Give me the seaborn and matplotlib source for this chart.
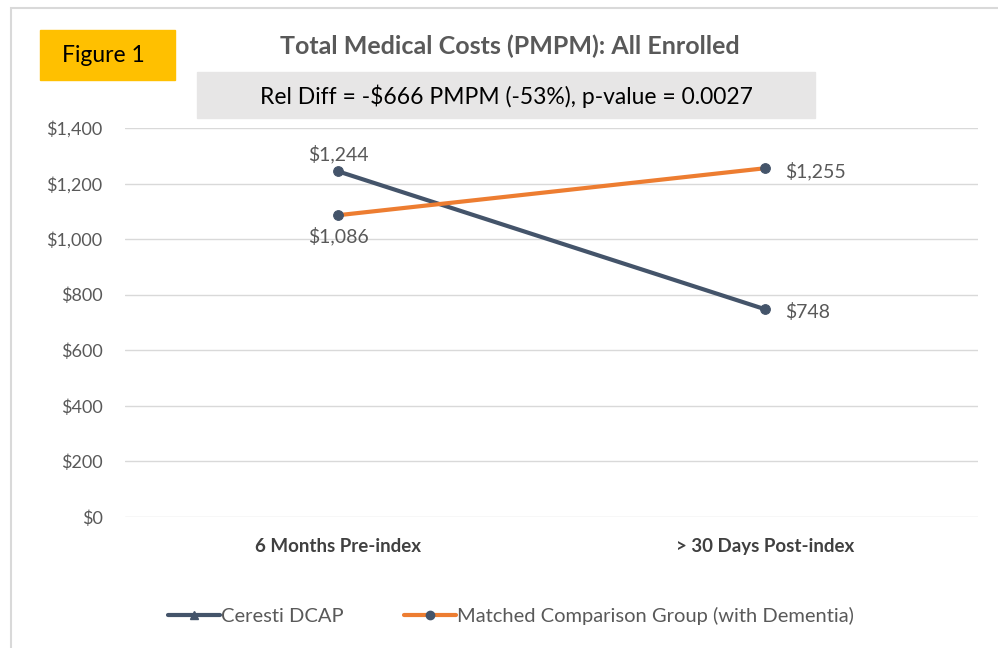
import matplotlib
matplotlib.use('Agg')
import matplotlib.pyplot as plt
import matplotlib.patches as mpatches
from matplotlib.lines import Line2D
from matplotlib.ticker import FuncFormatter
import pandas as pd
import seaborn as sns

sns.set_style('white')
plt.rcParams['font.family'] = ['Lato', 'DejaVu Sans']

# data
periods = ['6 Months Pre-index', '> 30 Days Post-index']
dcap = [1244, 748]
matched = [1086, 1255]
series_names = ['Ceresti DCAP', 'Matched Comparison Group (with Dementia)']
y_ticks = [0, 200, 400, 600, 800, 1000, 1200, 1400]

navy = '#44546A'
orange = '#ED7D31'
grey_txt = '#595959'

df = pd.DataFrame({
    'period': periods * 2,
    'pos': [0, 1] * 2,
    'cost': dcap + matched,
    'group': [series_names[0]] * 2 + [series_names[1]] * 2,
})

fig = plt.figure(figsize=(9.98, 6.48), dpi=100)
ax = fig.add_axes([0.125, 0.2022, 0.855, 0.6003])

sns.lineplot(data=df, x='pos', y='cost', hue='group', palette=[navy, orange],
             linewidth=3, marker='o', markersize=7, markerfacecolor=navy,
             markeredgecolor=navy, legend=False, ax=ax)

ax.set_xlim(-0.5, 1.5)
ax.set_ylim(0, 1400)
ax.set_yticks(y_ticks)
ax.yaxis.set_major_formatter(FuncFormatter(lambda v, p: '${:,.0f}'.format(v)))
ax.set_xticks([0, 1])
ax.set_xticklabels(periods, fontweight='bold', color='#404040', fontsize=13.5)
ax.tick_params(axis='y', labelsize=13, labelcolor=grey_txt, length=0, pad=16)
ax.tick_params(axis='x', length=0, pad=15)
ax.grid(axis='y', color='#D9D9D9', linewidth=1)
ax.set_xlabel('')
ax.set_ylabel('')
for s in ax.spines.values():
    s.set_visible(False)

# data labels
lab_kw = dict(fontsize=14, color=grey_txt)
ax.annotate('${:,}'.format(dcap[0]), (0, dcap[0]), xytext=(0, 6),
            textcoords='offset points', ha='center', va='bottom', **lab_kw)
ax.annotate('${:,}'.format(matched[0]), (0, matched[0]), xytext=(0, -8),
            textcoords='offset points', ha='center', va='top', **lab_kw)
ax.annotate('${:,}'.format(matched[1]), (1, matched[1]), xytext=(15, -2),
            textcoords='offset points', ha='left', va='center', **lab_kw)
ax.annotate('${:,}'.format(dcap[1]), (1, dcap[1]), xytext=(15, -2),
            textcoords='offset points', ha='left', va='center', **lab_kw)

# outer chart border
fig.patches.append(mpatches.Rectangle((0.011, -0.01), 1.1, 0.998, transform=fig.transFigure,
                                      fill=False, edgecolor='#D9D9D9', linewidth=1.5))

# Figure 1 badge
fig.patches.append(mpatches.Rectangle((40 / 998, 1 - 80 / 648), 135 / 998, 50 / 648,
                                      transform=fig.transFigure, color='#FFC000'))
fig.text(103 / 998, 1 - 56 / 648, 'Figure 1', ha='center', va='center', fontsize=16.5, color='black')

# title and subtitle box
fig.text(510 / 998, 1 - 46 / 648, 'Total Medical Costs (PMPM): All Enrolled', ha='center',
         va='center', fontsize=18, fontweight='bold', color=grey_txt)
fig.patches.append(mpatches.Rectangle((197 / 998, 1 - 118 / 648), 618 / 998, 46 / 648,
                                      transform=fig.transFigure, color='#E7E6E6'))
fig.text(506 / 998, 1 - 96 / 648, 'Rel Diff = -$666 PMPM (-53%), p-value = 0.0027',
         ha='center', va='center', fontsize=16.5, color='black')

# legend
handles = [Line2D([], [], color=navy, lw=3, marker='^', markersize=6, markerfacecolor=navy),
           Line2D([], [], color=orange, lw=3, marker='o', markersize=6, markerfacecolor=navy,
                  markeredgecolor=navy)]
fig.legend(handles, series_names, loc='center', bbox_to_anchor=(511 / 998, 1 - 616 / 648),
           ncol=2, frameon=False, fontsize=14.5, labelcolor=grey_txt, handlelength=2.6,
           handletextpad=0.05, columnspacing=3.0)

fig.savefig('out.png', dpi=100)
